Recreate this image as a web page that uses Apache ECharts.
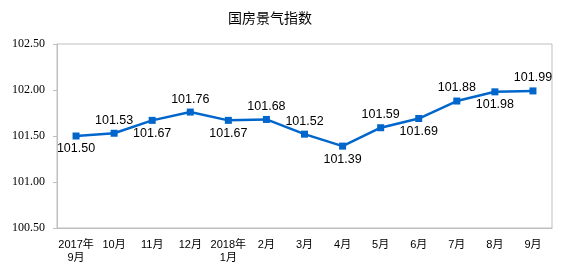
<!DOCTYPE html>
<html><head><meta charset="utf-8">
<script src="https://cdn.jsdelivr.net/npm/echarts@6/dist/echarts.min.js"></script>
<style>html,body{margin:0;padding:0;background:#fff}#c{width:563px;height:265px}</style>
</head><body><div id="c"></div>
<script>
var categories = ['2017年\n9月','10月','11月','12月','2018年\n1月','2月','3月','4月','5月','6月','7月','8月','9月'];
var values = [101.50,101.53,101.67,101.76,101.67,101.68,101.52,101.39,101.59,101.69,101.88,101.98,101.99];
var labelPos = ['bottom','top','bottom','top','bottom','top','top','bottom','top','bottom','top','bottom','top'];
var yTicks = [100.5,101,101.5,102,102.5];

var chart = echarts.init(document.getElementById('c'));
chart.setOption({
  animation:false,
  title:{text:'国房景气指数',left:265,top:6,textAlign:'center',textStyle:{fontSize:14,fontWeight:'normal',color:'#000',fontFamily:'Noto Sans CJK SC'}},
  grid:{left:57,right:11,top:44,bottom:37,outerBoundsMode:'none',containLabel:false},
  xAxis:{type:'category',data:categories,boundaryGap:true,
    axisLine:{lineStyle:{color:'#bfbfbf'}},
    axisTick:{inside:true,length:4,lineStyle:{color:'#bfbfbf'}},
    axisLabel:{color:'#000',fontSize:11,margin:10,interval:0,lineHeight:13,fontFamily:'Arial, Noto Sans CJK SC'}},
  yAxis:{type:'value',min:yTicks[0],max:yTicks[yTicks.length-1],interval:0.5,
    axisLine:{show:true,lineStyle:{color:'#bfbfbf'}},
    axisTick:{show:true,length:4,lineStyle:{color:'#bfbfbf'}},
    splitLine:{show:false},
    axisLabel:{color:'#000',fontSize:12,margin:12,fontFamily:'Liberation Serif',formatter:function(v){return v.toFixed(2);}}},
  series:[{type:'line',
    data:values.map(function(v,i){return {value:v,label:{position:labelPos[i]}};}),
    symbol:'rect',symbolSize:7,
    lineStyle:{color:'#0066cc',width:2.5},
    itemStyle:{color:'#0066cc'},
    label:{show:true,color:'#000',fontSize:12.5,fontFamily:'Arial',distance:3,formatter:function(p){return p.value.toFixed(2);}}
  }],
  graphic:[{type:'rect',shape:{x:57,y:44,width:495,height:184},style:{fill:null,stroke:'#bfbfbf',lineWidth:1},silent:true}]
});
</script></body></html>
